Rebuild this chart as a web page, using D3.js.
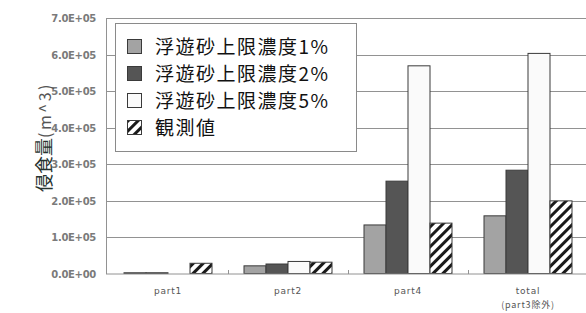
<!DOCTYPE html>
<html><head><meta charset="utf-8">
<script src="https://cdn.jsdelivr.net/npm/d3@7"></script>
<style>body{margin:0;background:#fff}svg{display:block}</style>
</head><body>
<svg id="c" width="586" height="313"></svg>
<script>
const categories = ["part1", "part2", "part4", "total"];
const categorySub = ["", "", "", "(part3除外)"];
const seriesNames = ["浮遊砂上限濃度1%", "浮遊砂上限濃度2%", "浮遊砂上限濃度5%", "観測値"];
const conc1 = [2000, 21000, 133000, 158000];
const conc2 = [2000, 26000, 253000, 283000];
const conc5 = [0, 33000, 569000, 603000];
const observed = [28000, 31000, 138000, 199000];
const tickValues = [0, 100000, 200000, 300000, 400000, 500000, 600000, 700000];
const tickLabels = ["0.0E+00", "1.0E+05", "2.0E+05", "3.0E+05", "4.0E+05", "5.0E+05", "6.0E+05", "7.0E+05"];
const yTitleMain = "侵食量";
const yTitleUnit = "(m^3)";

const seriesValues = [conc1, conc2, conc5, observed];
const fills = ["#a3a3a3", "#555555", "#fafafa", "url(#hatch)"];

const svg = d3.select("#c");
const defs = svg.append("defs");
const pat = defs.append("pattern").attr("id", "hatch").attr("patternUnits", "userSpaceOnUse")
  .attr("width", 7).attr("height", 7).attr("patternTransform", "rotate(45)");
pat.append("rect").attr("width", 7).attr("height", 7).attr("fill", "#fff");
pat.append("rect").attr("x", 0).attr("y", 0).attr("width", 3).attr("height", 7).attr("fill", "#1a1a1a");

const x = d3.scaleBand().domain(categories).range([108, 588]);
const xs = d3.scaleBand().domain(d3.range(4)).range([16, 104]);
const y = d3.scaleLinear().domain([0, 700000]).range([273.5, 18]);

// gridlines
svg.append("g").selectAll("line").data(tickValues.slice(1)).join("line")
  .attr("x1", 106).attr("x2", 586)
  .attr("y1", d => Math.round(y(d)) + 0.5).attr("y2", d => Math.round(y(d)) + 0.5)
  .attr("stroke", "#929292").attr("stroke-width", 1);

// tick labels
svg.append("g").selectAll("text").data(tickValues).join("text")
  .attr("x", 96).attr("y", d => y(d) + 4)
  .attr("text-anchor", "end").attr("font-family", "DejaVu Sans, sans-serif")
  .attr("font-size", 10).attr("font-weight", "bold").attr("fill", "#7a7a7a")
  .attr("letter-spacing", "-0.3")
  .text((d, i) => tickLabels[i]);

// bars
const groups = svg.append("g").selectAll("g").data(categories).join("g")
  .attr("transform", d => `translate(${x(d)},0)`);
groups.selectAll("rect").data((c, ci) => seriesValues.map((s, si) => ({si, v: s[ci]})))
  .join("rect")
  .attr("x", d => xs(d.si)).attr("width", xs.bandwidth())
  .attr("y", d => y(d.v)).attr("height", d => y(0) - y(d.v))
  .attr("fill", d => fills[d.si])
  .attr("stroke", d => d.v > 0 ? "#3a3a3a" : "none").attr("stroke-width", 1);

// axes lines
svg.append("line").attr("x1", 106.5).attr("x2", 106.5).attr("y1", 18).attr("y2", 274)
  .attr("stroke", "#929292");
svg.append("line").attr("x1", 106).attr("x2", 586).attr("y1", 274).attr("y2", 274)
  .attr("stroke", "#929292");
// x ticks
svg.append("g").selectAll("line").data(categories.slice(1)).join("line")
  .attr("x1", d => x(d) + 0.5).attr("x2", d => x(d) + 0.5)
  .attr("y1", 270).attr("y2", 274).attr("stroke", "#929292");

// category labels
const cl = svg.append("g").selectAll("text").data(categories).join("text")
  .attr("x", d => x(d) + x.bandwidth() / 2).attr("y", 294)
  .attr("text-anchor", "middle").attr("font-family", "DejaVu Sans, sans-serif")
  .attr("font-size", 9).attr("fill", "#555").attr("letter-spacing", "0.8");
cl.append("tspan").text(d => d);
cl.append("tspan").attr("x", d => x(d) + x.bandwidth() / 2).attr("dy", 14)
  .attr("font-family", "Noto Sans CJK JP, sans-serif")
  .text((d, i) => categorySub[i]);

// y title
const yt = svg.append("text").attr("transform", "translate(51,137) rotate(-90)")
  .attr("text-anchor", "middle").attr("font-family", "Noto Sans CJK JP, sans-serif");
yt.append("tspan").attr("font-size", 18).attr("fill", "#26332f").text(yTitleMain);
yt.append("tspan").attr("font-size", 16).attr("fill", "#555").attr("letter-spacing", "2.5").text(yTitleUnit);

// legend
const lg = svg.append("g");
lg.append("rect").attr("x", 115.5).attr("y", 23.5).attr("width", 241).attr("height", 128)
  .attr("fill", "#fff").attr("stroke", "#8a8a8a");
const rowsY = [47, 74, 101, 128];
const items = lg.selectAll("g").data(seriesNames).join("g")
  .attr("transform", (d, i) => `translate(0,${rowsY[i]})`);
items.append("rect").attr("x", 127.5).attr("y", -7.5).attr("width", 14).attr("height", 14)
  .attr("fill", (d, i) => fills[i]).attr("stroke", "#3a3a3a");
items.append("text").attr("x", 155).attr("y", 7)
  .attr("font-family", "Noto Sans CJK JP, sans-serif").attr("font-size", 19)
  .attr("letter-spacing", "1.5").attr("fill", "#111").text(d => d);
</script>
</body></html>
